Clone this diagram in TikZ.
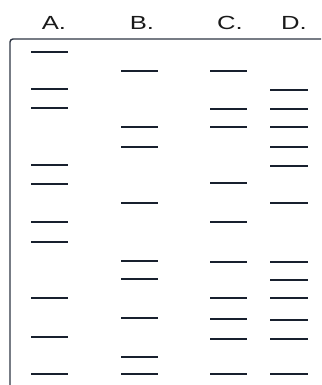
\documentclass[tikz,border=0pt]{standalone}
\usepackage{fontspec}
\setmainfont{Liberation Sans}
\usepackage{xcolor}
\definecolor{bandink}{HTML}{18202E}
\definecolor{frameink}{HTML}{2E3644}
\definecolor{darktext}{HTML}{1A1A1A}

\tikzset{
  lanelabel/.style={font=\fontsize{19}{19}\selectfont,text=darktext,anchor=base,xscale=1.35,inner sep=0pt},
  band/.style={bandink,line width=2.6pt}
}

\begin{document}
\begin{tikzpicture}[x=1pt,y=-1pt]
% page = 321 x 385, one unit per pixel, y runs downwards
\useasboundingbox (0,0) rectangle (321,385);

% lane labels
\node[lanelabel] (laneA) at (54,29.5) {A.};
\node[lanelabel] (laneB) at (142,29.5) {B.};
\node[lanelabel] (laneC) at (230,29.5) {C.};
\node[lanelabel] (laneD) at (294,29.5) {D.};

% gel frame: top edge and left edge only
\draw[frameink,line width=1.4pt,rounded corners=3pt] (321,39) -- (10,39) -- (10,385);

% bands, lane by lane
\foreach \y in {52,89,108,165,184,222,242,298,337,374}
  \draw[band] (31,\y) -- (68,\y);
\foreach \y in {71,127,147,203,261,279,318,357,374}
  \draw[band] (121,\y) -- (158,\y);
\foreach \y in {71,109,127,183,222,262,298,319,339,374}
  \draw[band] (210,\y) -- (247,\y);
\foreach \y in {90,109,127,147,166,203,262,280,298,320,339,374}
  \draw[band] (270,\y) -- (308,\y);
\end{tikzpicture}
\end{document}
